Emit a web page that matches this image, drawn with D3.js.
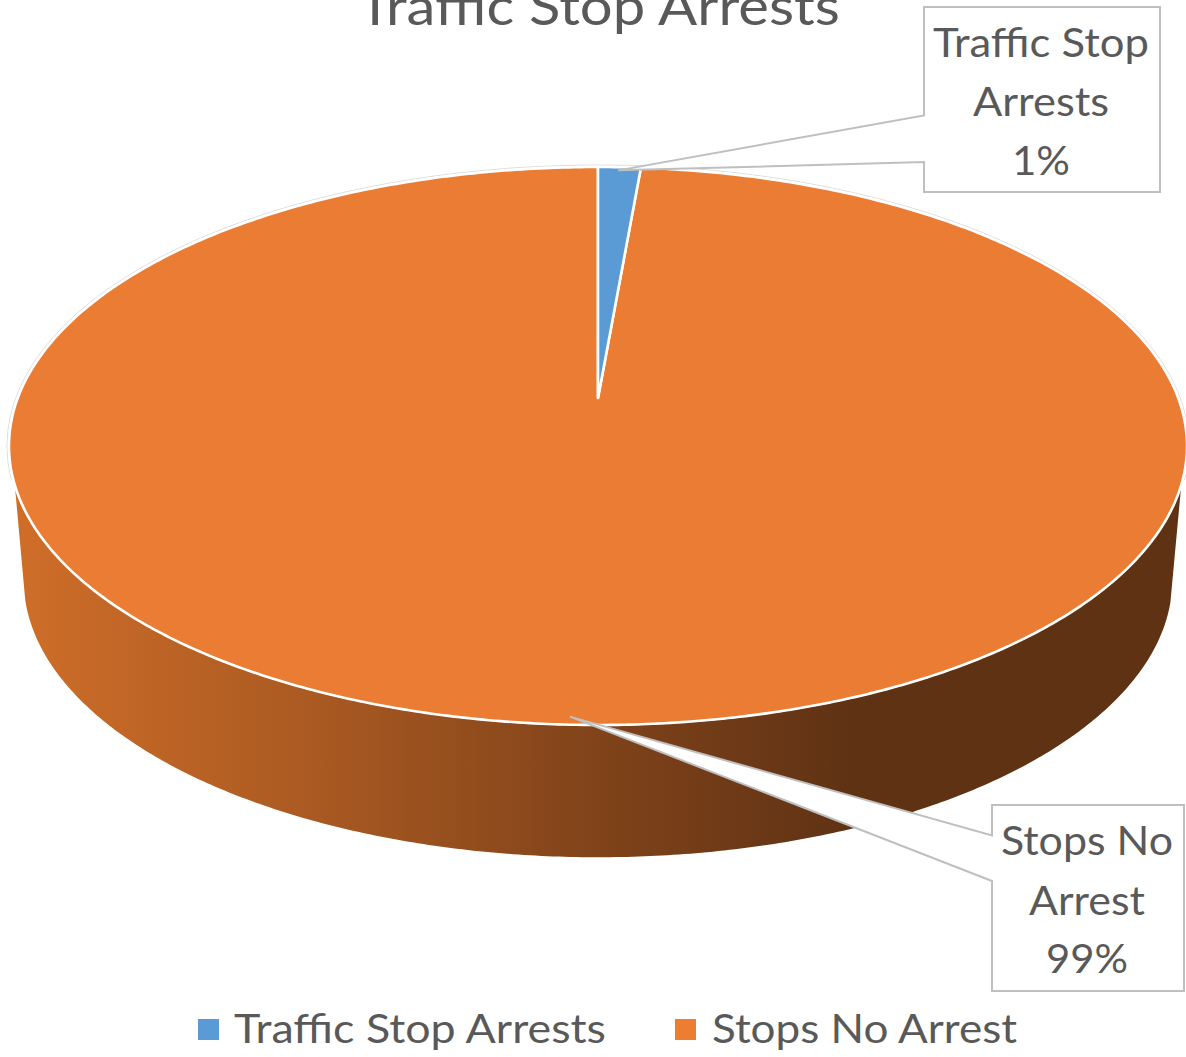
<!DOCTYPE html>
<html>
<head>
<meta charset="utf-8">
<script src="https://cdn.jsdelivr.net/npm/d3@7"></script>
<style>
  html, body { margin: 0; padding: 0; background: #fff; }
  svg { display: block; }
  text { font-family: Lato, "Open Sans", sans-serif; fill: #595959; }
</style>
</head>
<body>
<svg id="chart" width="1186" height="1057"></svg>
<script>
var categories = ["Traffic Stop Arrests", "Stops No Arrest"];
var values = [1.16, 98.84];
var percentLabels = ["1%", "99%"];
var labelLines = [["Traffic Stop", "Arrests"], ["Stops No", "Arrest"]];
var colors = ["#5b9bd5", "#ed7d31"];
var sliceColors = ["#5b9bd5", "#ea7c33"];

var width = 1186, height = 1057;

// top face of the disc and the smaller bottom rim (perspective)
var top_ = {cx: 598, cy: 446, rx: 589, ry: 279, apexY: 398};
var bottom_ = {cx: 598, cy: 580, rx: 575, ry: 278};

var svg = d3.select("#chart");

function ellipsePoint(e, a, k) {
  var x = d3.scaleLinear().domain([-1, 1]).range([e.cx - e.rx, e.cx + e.rx]);
  var y = d3.scaleLinear().domain([-1, 1]).range([e.cy + e.ry, e.cy - e.ry]);
  k = k === undefined ? 1 : k;
  return [x(k * Math.sin(a)), y(k * Math.cos(a))];
}

var line = d3.line();

var pie = d3.pie().sort(null).value(function(d) { return d; });
var slices = pie(values);

// side wall
var defs = svg.append("defs");
var grad = defs.append("linearGradient")
    .attr("id", "side")
    .attr("gradientUnits", "userSpaceOnUse")
    .attr("x1", 12).attr("x2", 850).attr("y1", 0).attr("y2", 0);
grad.append("stop").attr("offset", "0%").attr("stop-color", "#cf6e29");
grad.append("stop").attr("offset", "35%").attr("stop-color", "#ab5a22");
grad.append("stop").attr("offset", "70%").attr("stop-color", "#80431a");
grad.append("stop").attr("offset", "100%").attr("stop-color", "#5f3214");

var tangent = 0.125, rimStart = 0.072;
var sidePts = [];
d3.range(Math.PI / 2 + tangent, 3 * Math.PI / 2 - tangent + 0.001, 0.01).forEach(function(a) {
  sidePts.push(ellipsePoint(top_, a));
});
d3.range(3 * Math.PI / 2 - rimStart, Math.PI / 2 + rimStart - 0.001, -0.01).forEach(function(a) {
  sidePts.push(ellipsePoint(bottom_, a));
});

svg.append("path")
    .attr("d", line(sidePts) + "Z")
    .attr("fill", "url(#side)")
    .attr("stroke", "#fff")
    .attr("stroke-width", 1.5);

// faint outline round the top face
defs.append("clipPath").attr("id", "upper").append("rect")
    .attr("x", 0).attr("y", 0).attr("width", width).attr("height", top_.cy + 34);
svg.append("ellipse")
    .attr("cx", top_.cx).attr("cy", top_.cy)
    .attr("rx", top_.rx + 2).attr("ry", top_.ry + 2)
    .attr("fill", "#fff")
    .attr("stroke", "#cfcfcf")
    .attr("stroke-width", 0.7)
    .attr("clip-path", "url(#upper)");

// slices, drawn orange first so the blue one sits on top
function slicePath(d) {
  var pts = [[top_.cx, top_.apexY]];
  var n = Math.max(2, Math.ceil((d.endAngle - d.startAngle) / 0.01));
  d3.range(n + 1).forEach(function(i) {
    pts.push(ellipsePoint(top_, d.startAngle + (d.endAngle - d.startAngle) * i / n));
  });
  return line(pts) + "Z";
}

svg.selectAll("path.slice")
    .data(slices.slice().reverse())
    .enter().append("path")
    .attr("class", "slice")
    .attr("d", slicePath)
    .attr("fill", function(d) { return sliceColors[d.index]; })
    .attr("stroke", "#fff")
    .attr("stroke-width", 2.6)
    .attr("stroke-linejoin", "round");

// title, cut off by the top of the picture like the original
svg.append("text")
    .attr("x", 599).attr("y", 25)
    .attr("text-anchor", "middle")
    .attr("font-size", 52)
    .attr("textLength", 482)
    .attr("lengthAdjust", "spacingAndGlyphs")
    .text("Traffic Stop Arrests");

// callouts
var callouts = [
  {x: 924, y: 7, w: 236, h: 185, a: 115.5, b: 162, dx: -1, dy: -1,
   base: [57, 116, 175], len: [216, 136, 58]},
  {x: 992, y: 805, w: 192, h: 186, a: 835.5, b: 881, dx: -7, dy: -4,
   base: [855, 915, 973], len: [172, 116, 82]}
];

callouts.forEach(function(c, i) {
  var d = slices[i];
  var tip = ellipsePoint(top_, (d.startAngle + d.endAngle) / 2, 0.985);
  tip = [tip[0] + c.dx, tip[1] + c.dy];
  var pts = [
    [c.x, c.y], [c.x + c.w, c.y], [c.x + c.w, c.y + c.h], [c.x, c.y + c.h],
    [c.x, c.b], tip, [c.x, c.a]
  ];
  svg.append("path")
      .attr("d", line(pts) + "Z")
      .attr("fill", "#fff")
      .attr("stroke", "#bfbfbf")
      .attr("stroke-width", 2);

  labelLines[i].concat([percentLabels[i]]).forEach(function(t, j) {
    svg.append("text")
        .attr("x", c.x + c.w / 2 - 1).attr("y", c.base[j])
        .attr("text-anchor", "middle")
        .attr("font-size", 40)
        .attr("textLength", c.len[j])
        .attr("lengthAdjust", "spacingAndGlyphs")
        .text(t);
  });
});

// legend
var legendItems = [
  {x: 198, textX: 234, len: 372},
  {x: 675, textX: 712, len: 305}
];

var legend = svg.selectAll("g.legend")
    .data(categories)
    .enter().append("g")
    .attr("class", "legend");

legend.append("rect")
    .attr("x", function(d, i) { return legendItems[i].x; })
    .attr("y", 1019)
    .attr("width", 21).attr("height", 21)
    .attr("fill", function(d, i) { return colors[i]; });

legend.append("text")
    .attr("x", function(d, i) { return legendItems[i].textX; })
    .attr("y", 1043)
    .attr("font-size", 40)
    .attr("textLength", function(d, i) { return legendItems[i].len; })
    .attr("lengthAdjust", "spacingAndGlyphs")
    .text(function(d) { return d; });
</script>
</body>
</html>
